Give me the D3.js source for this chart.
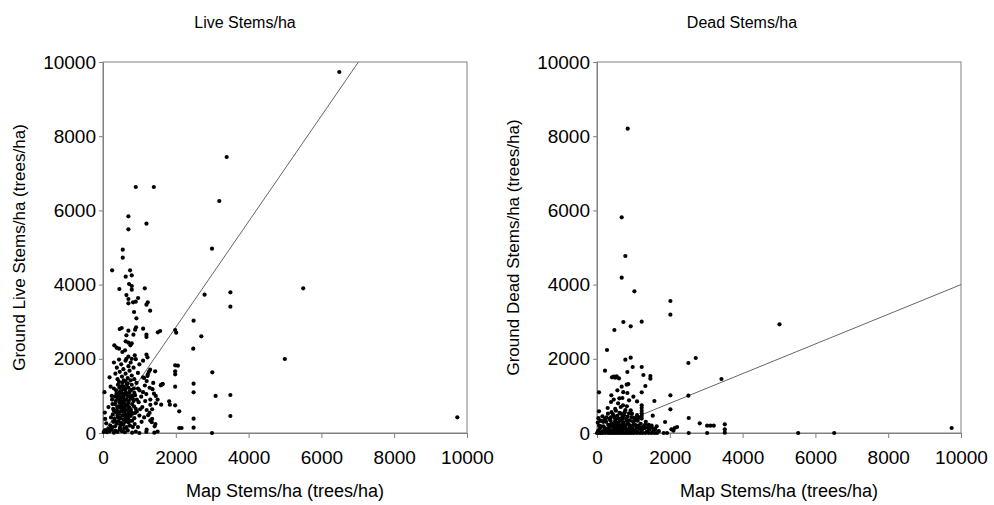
<!DOCTYPE html>
<html><head><meta charset="utf-8">
<script src="https://cdn.jsdelivr.net/npm/d3@7"></script>
<style>body{margin:0;background:#fff} text{font-family:"Liberation Sans",Arial,sans-serif;fill:#000}</style>
</head><body><svg id="c" width="994" height="505"></svg>
<script>
const panelTitles = ["Live Stems/ha", "Dead Stems/ha"];
const yLabels = ["Ground Live Stems/ha (trees/ha)", "Ground Dead Stems/ha (trees/ha)"];
const xLabel = "Map Stems/ha (trees/ha)";
const tickValues = [0, 2000, 4000, 6000, 8000, 10000];
const fitSlope = [1.425, 0.4];
const fitIntercept = [0, 0];

const livePoints = [
[20,30],[60,80],[110,20],[180,40],[240,90],[300,10],[340,60],[400,30],[460,100],[520,50],[600,20],[680,70],[800,10],[900,40],[1000,0],[1190,30],[1200,90],[1410,10],[1500,40],[250,150],[150,110],
[90,260],[200,200],[280,300],[330,180],[380,250],[430,320],[470,150],[510,270],[560,220],[610,300],[650,160],[700,280],[740,200],[800,330],[870,240],[960,160],[1300,340],[1340,290],[1440,240],[1420,180],[1060,300],
[220,420],[270,500],[320,380],[360,560],[400,460],[440,520],[470,400],[500,580],[530,470],[560,360],[590,540],[620,430],[650,500],[690,380],[720,560],[760,460],[810,520],[860,400],[930,580],[1000,470],[1130,420],[1280,540],[1350,380],[50,550],[60,380],
[150,700],[280,650],[330,780],[380,620],[420,720],[450,820],[480,680],[510,760],[540,640],[570,830],[600,700],[630,760],[660,620],[690,800],[720,690],[760,640],[800,780],[850,720],[900,650],[980,830],[1080,700],[1200,620],[1300,760],[1350,640],
[40,1100],[250,900],[330,980],[370,1060],[410,920],[450,1000],[490,880],[520,1080],[560,950],[600,1030],[640,900],[680,1000],[720,1070],[760,930],[800,1000],[860,1080],[930,900],[1050,980],[1190,1050],[1300,900],[1400,1060],[1450,1000],[1500,900],[1450,800],
[300,1200],[360,1150],[410,1300],[450,1220],[490,1130],[530,1350],[570,1250],[610,1180],[650,1320],[700,1220],[740,1130],[790,1300],[850,1200],[920,1350],[1000,1150],[1150,1280],[1280,1220],[1380,1350],[1600,1300],[1640,1320],[1200,1400],
[180,1500],[340,1600],[400,1450],[460,1650],[520,1520],[570,1420],[620,1600],[680,1480],[730,1680],[790,1550],[860,1450],[960,1620],[1100,1500],[1260,1650],[1230,1580],[1130,1483],[1222,1536],[1295,1707],[1432,1662],
[300,1900],[380,1760],[440,1980],[500,1850],[560,1720],[620,1950],[700,1800],[760,1900],[840,1760],[900,1990],[1000,1850],[1100,1950],[1983,1824],[2057,1815],[1983,1662],[1983,1582],
[350,300],[420,420],[480,220],[540,580],[580,120],[640,380],[700,460],[750,330],[820,160],[880,540],[390,700],[430,560],[470,860],[530,720],[590,620],[630,900],[670,740],[710,860],[780,560],[840,860],
[350,860],[400,1000],[460,1100],[510,960],[550,1180],[590,880],[630,1100],[670,1240],[730,980],[780,1160],[820,920],[880,1020],[440,1380],[500,1260],[560,1040],[620,1400],[680,1340],[760,1420],[540,820],[600,500],
[300,600],[260,780],[240,1000],[210,1250],[960,1200],[1020,640],[1100,1100],[1160,860],[1240,480],[1360,1180],
[312,2363],[376,2300],[441,2273],[624,2471],[698,2435],[790,2417],[753,2363],[2479,2273],[532,2183],[606,2228],[1194,2111],[1222,2040],[872,2093],[643,2000],[698,2060],[790,2000],
[459,2803],[514,2830],[698,2758],[882,2785],[909,2848],[1102,2812],[1194,2650],[1194,2588],[1506,2713],[1570,2749],[1983,2776],[2011,2704],[2700,2606],[836,2650],[643,2633],
[2489,3028],[918,3091],[854,3261],[1295,3297],[1230,3522],[1194,3459],[3499,3405],[698,3495],[826,3522],[900,3540],[964,3639],[698,3612],[643,3719],[2791,3728],[3499,3791],[5500,3899],[1148,3899],[450,3881],[790,3863],[790,3962],[716,4016],[624,4214],[790,4250],[744,4385],[250,4385],[542,4726],[542,4942],[2994,4969],[1194,5642],[698,5490],[698,5840],[3196,6253],[1396,6631],[900,6631],[3398,7439],[6492,9730],
[4995,1995],[3003,1635],[1983,1249],[2489,1330],[2489,1096],[3094,1000],[3499,1024],[1635,1320],[1588,1285],[1598,764],[1818,854],[1837,764],[1983,746],[2094,584],[2489,386],[3499,458],[9734,422],[2489,144],[2094,135],[2158,135],[2994,0]
];

const deadPoints = [
[0,0],[50,0],[100,0],[150,0],[220,0],[300,0],[360,0],[420,0],[480,0],[540,0],[600,0],[660,0],[720,0],[780,0],[840,0],[900,0],[960,0],[1020,0],[1100,0],[1180,0],[1250,0],[1330,0],[1420,0],[1500,0],[1580,0],[1650,0],[1833,0],[1925,0],
[30,60],[80,120],[140,40],[200,90],[260,30],[320,130],[380,70],[430,20],[470,110],[520,50],[570,140],[610,30],[650,90],[700,60],[750,130],[800,20],[850,100],[910,50],[970,120],[1030,70],[1100,30],[1160,110],[1230,60],[1300,130],[1370,40],[1450,90],[1540,30],[1600,100],[1700,50],[2044,99],[2136,135],[2200,162],[2100,60],
[20,280],[60,200],[120,330],[180,180],[250,300],[310,220],[370,340],[420,170],[460,260],[500,320],[540,190],[590,280],[640,340],[680,210],[720,290],[770,170],[820,330],[870,240],[930,190],[990,300],[1060,210],[1120,330],[1200,250],[1280,180],[1340,300],[1420,220],[1500,200],
[110,180],[170,300],[240,120],[290,60],[350,200],[400,260],[450,60],[490,190],[530,260],[580,80],[620,200],[660,160],[700,380],[740,220],[790,100],[830,240],[890,160],[950,80],[1010,220],[1080,140],[1140,200],[1190,150],[1260,120],[1320,220],[1390,140],[1470,160],[1560,120],[1640,180],
[40,400],[90,330],[260,420],[340,380],[400,560],[480,440],[520,600],[600,380],[660,520],[710,440],[780,620],[840,440],[900,340],[960,520],[1040,330],[1100,480],
[55,584],[150,450],[220,380],[300,520],[380,420],[440,500],[500,380],[560,460],[620,540],[680,400],[740,480],[800,380],[880,530],[950,430],[1228,390],[1228,460],[1228,530],[1228,600],[1228,680],[1228,746],[1000,410],[1080,410],[1150,410],[1531,467],[1870,296],[2520,404],[2823,261],[3025,198],[3116,198],[3208,198],[3511,234],[3511,99],[3511,9],[2520,0],[3025,0],[5527,0],[6517,0],[9743,135],
[293,674],[651,701],[715,746],[926,611],[2016,638],[385,836],[1577,863],[614,934],[697,943],[999,979],[394,1015],[834,1078],[1228,1096],[2016,1015],[2511,1006],[55,1096],[500,650],[580,800],[820,720],[1100,850],[460,900],[760,560],[880,880],[560,1150],[720,1100],
[678,1249],[816,1303],[862,1320],[1329,1267],[412,1500],[460,1520],[500,1490],[540,1530],[605,1470],[3419,1456],[1467,1536],[1467,1465],[1274,1563],[834,1644],[981,1779],[1228,1779],[220,1680],[926,2031],[779,1977],[2713,2022],[2511,1887],[275,2237],[477,2776],[926,2875],[724,2992],[1228,3001],[5014,2929],[2016,3190],[2016,3558],[1027,3819],[678,4187],[779,4771],[678,5813],[843,8203]
];

const datasets = [livePoints, deadPoints];
const panelLeft = [103, 597];
const plotW = 364, plotTop = 62, plotH = 371;
const chartCenter = [245, 742];

const svg = d3.select("#c");
svg.append("rect").attr("width", 994).attr("height", 505).attr("fill", "#fff");

datasets.forEach((pts, i) => {
  const x = d3.scaleLinear().domain([0, 10000]).range([panelLeft[i], panelLeft[i] + plotW]);
  const y = d3.scaleLinear().domain([0, 10000]).range([plotTop + plotH, plotTop]);
  const g = svg.append("g");

  g.append("rect").attr("x", x(0)).attr("y", y(10000)).attr("width", plotW).attr("height", plotH)
    .attr("fill", "none").attr("stroke", "#808080").attr("stroke-width", 1);

  const xa = g.append("g").attr("transform", `translate(0,${y(0)})`)
    .call(d3.axisBottom(x).tickValues(tickValues).tickSize(5).tickPadding(13).tickFormat(d3.format("d")));
  const ya = g.append("g").attr("transform", `translate(${x(0)},0)`)
    .call(d3.axisLeft(y).tickValues(tickValues).tickSize(4).tickPadding(3).tickFormat(d3.format("d")));
  [xa, ya].forEach(a => {
    a.select(".domain").attr("stroke", "#808080");
    a.selectAll(".tick line").attr("stroke", "#808080");
    a.selectAll("text").style("font-size", "19px").style("font-family", "'Liberation Sans', Arial, sans-serif").attr("fill", "#000");
  });

  const x1 = Math.min(10000, (10000 - fitIntercept[i]) / fitSlope[i]);
  g.append("line")
    .attr("x1", x(0)).attr("y1", y(fitIntercept[i]))
    .attr("x2", x(x1)).attr("y2", y(fitIntercept[i] + fitSlope[i] * x1))
    .attr("stroke", "#555").attr("stroke-width", 0.9);

  g.selectAll("circle").data(pts).enter().append("circle")
    .attr("cx", d => x(d[0])).attr("cy", d => y(d[1])).attr("r", 2.1).attr("fill", "#000");

  g.append("text").attr("x", chartCenter[i]).attr("y", 28).attr("text-anchor", "middle")
    .style("font-size", "16px").text(panelTitles[i]);
  g.append("text").attr("x", panelLeft[i] + plotW / 2).attr("y", 497).attr("text-anchor", "middle")
    .style("font-size", "18px").text(xLabel);
  g.append("text").attr("transform", `translate(${panelLeft[i] - 78},${plotTop + plotH / 2}) rotate(-90)`)
    .attr("text-anchor", "middle").style("font-size", "17px").text(yLabels[i]);
});
</script></body></html>
